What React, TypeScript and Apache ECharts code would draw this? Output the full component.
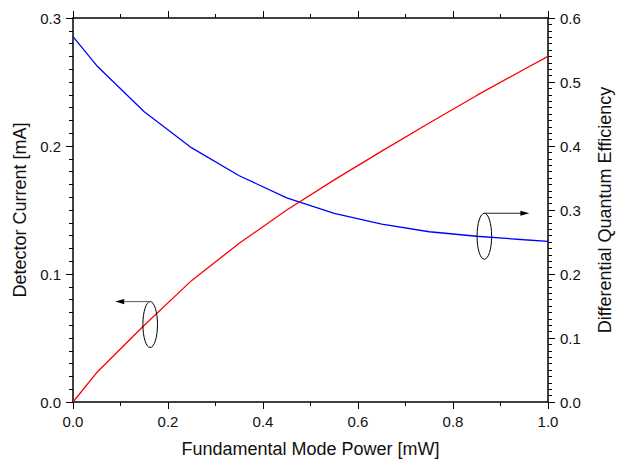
import React, { useEffect, useRef } from "react";
import * as echarts from "echarts";

// Fundamental mode power [mW]
const power = [0, 0.05, 0.15, 0.25, 0.35, 0.45, 0.55, 0.65, 0.75, 0.85, 0.95, 1.0];
// Detector current [mA] (left axis)
const detectorCurrent = [0, 0.023, 0.06, 0.095, 0.124, 0.15, 0.1735, 0.196, 0.218, 0.2395, 0.26, 0.27];
// Differential quantum efficiency (right axis)
const quantumEfficiency = [0.571, 0.5255, 0.4536, 0.397, 0.3535, 0.319, 0.2948, 0.278, 0.266, 0.259, 0.2535, 0.251];

// annotation anchors (data coordinates)
const leftMarker = [0.1625, 0.0605];
const rightMarker = [0.866, 0.259];

const FONT = "'Liberation Sans', Arial, Helvetica, sans-serif";
const AXIS_COLOR = "#000";

function axisCommon() {
  return {
    axisLine: { show: true, onZero: false, lineStyle: { color: AXIS_COLOR, width: 1.5 } },
    axisTick: { show: true, inside: false, length: 7, lineStyle: { color: AXIS_COLOR, width: 1 } },
    minorTick: { show: true, length: 4, lineStyle: { color: AXIS_COLOR, width: 1 } },
    splitLine: { show: false },
    minorSplitLine: { show: false },
    axisLabel: {
      margin: 12,
      fontSize: 15,
      color: "#111",
      fontFamily: FONT,
      formatter: (v: number) => v.toFixed(1),
    },
    nameTextStyle: { fontSize: 18, color: "#111", fontFamily: FONT },
  };
}

export default function App() {
  const ref = useRef<HTMLDivElement>(null);

  useEffect(() => {
    document.body.style.margin = "0";
    if (!ref.current) return;
    const chart = echarts.init(ref.current, undefined, { renderer: "svg" });
    const c = axisCommon();
    chart.setOption({
      animation: false,
      backgroundColor: "#fff",
      grid: { left: 73, right: 77, top: 18, bottom: 59, containLabel: false, outerBoundsMode: "none" },
      xAxis: [
        {
          ...c,
          type: "value",
          position: "bottom",
          min: 0,
          max: 1,
          interval: 0.2,
          minorTick: { ...c.minorTick, splitNumber: 2 },
          name: "Fundamental Mode Power [mW]",
          nameLocation: "middle",
          nameGap: 38,
        },
        {
          ...c,
          type: "value",
          position: "top",
          min: 0,
          max: 1,
          interval: 0.2,
          minorTick: { ...c.minorTick, splitNumber: 2 },
          axisLabel: { show: false },
        },
      ],
      yAxis: [
        {
          ...c,
          type: "value",
          position: "left",
          min: 0,
          max: 0.3,
          interval: 0.1,
          minorTick: { ...c.minorTick, splitNumber: 10 },
          name: "Detector Current [mA]",
          nameLocation: "middle",
          nameRotate: 90,
          nameGap: 42,
        },
        {
          ...c,
          type: "value",
          position: "right",
          min: 0,
          max: 0.6,
          interval: 0.1,
          minorTick: { ...c.minorTick, splitNumber: 10 },
          name: "Differential Quantum Efficiency",
          nameLocation: "middle",
          nameRotate: 90,
          nameGap: 48,
        },
      ],
      series: [
        {
          type: "line",
          name: "Detector Current",
          xAxisIndex: 0,
          yAxisIndex: 0,
          data: power.map((x, i) => [x, detectorCurrent[i]]),
          showSymbol: false,
          lineStyle: { color: "#ff0000", width: 1.3 },
          itemStyle: { color: "#ff0000" },
          z: 3,
        },
        {
          type: "line",
          name: "Differential Quantum Efficiency",
          xAxisIndex: 0,
          yAxisIndex: 1,
          data: power.map((x, i) => [x, quantumEfficiency[i]]),
          showSymbol: false,
          lineStyle: { color: "#0000ff", width: 1.3 },
          itemStyle: { color: "#0000ff" },
          z: 2,
        },
      ],
    });

    const lp = chart.convertToPixel({ xAxisIndex: 0, yAxisIndex: 0 }, leftMarker) as number[];
    const rp = chart.convertToPixel({ xAxisIndex: 0, yAxisIndex: 1 }, rightMarker) as number[];
    const rx = 7.3;
    const ry = 23;
    const ellipseStyle = { fill: "none", stroke: "#000", lineWidth: 1 };
    const lTop = lp[1] - ry;
    const rTop = rp[1] - ry;
    const lTip = lp[0] - 35;
    const rTip = rp[0] + 45;
    chart.setOption({
      graphic: [
        { type: "ellipse", shape: { cx: lp[0], cy: lp[1], rx, ry }, style: ellipseStyle, z: 10 },
        {
          type: "line",
          shape: { x1: lp[0], y1: lTop, x2: lTip + 6, y2: lTop },
          style: { stroke: "#6e6e6e", lineWidth: 1.2 },
          z: 10,
        },
        {
          type: "polygon",
          shape: { points: [[lTip, lTop], [lTip + 9, lTop - 2.6], [lTip + 9, lTop + 2.6]] },
          style: { fill: "#000" },
          z: 10,
        },
        { type: "ellipse", shape: { cx: rp[0], cy: rp[1], rx, ry }, style: ellipseStyle, z: 10 },
        {
          type: "line",
          shape: { x1: rp[0], y1: rTop, x2: rTip - 6, y2: rTop },
          style: { stroke: "#222", lineWidth: 1 },
          z: 10,
        },
        {
          type: "polygon",
          shape: { points: [[rTip, rTop], [rTip - 9, rTop - 2.6], [rTip - 9, rTop + 2.6]] },
          style: { fill: "#000" },
          z: 10,
        },
      ],
    });

    return () => chart.dispose();
  }, []);

  return <div ref={ref} style={{ width: 625, height: 461 }} />;
}
